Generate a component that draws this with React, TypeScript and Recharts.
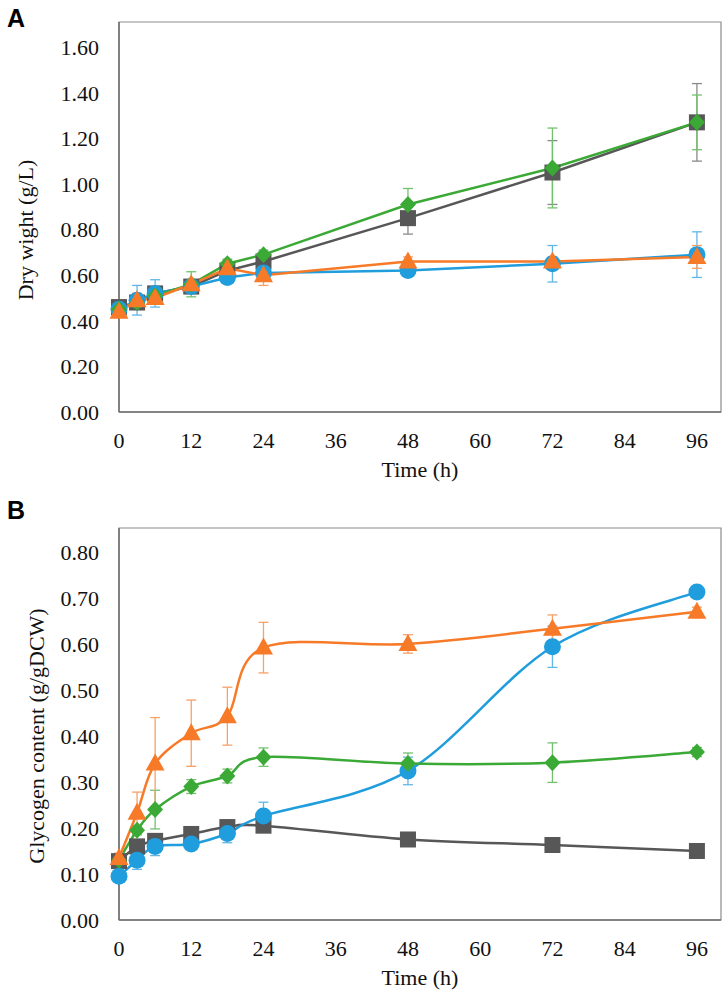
import { LineChart, Line, XAxis, YAxis, ErrorBar, ReferenceArea } from 'recharts';

const hours = [0, 3, 6, 12, 18, 24, 48, 72, 96];
const hourTicks = [0, 12, 24, 36, 48, 60, 72, 84, 96];

// panel A - dry weight (g/L)
const dwTicks = [0, 0.2, 0.4, 0.6, 0.8, 1.0, 1.2, 1.4, 1.6];
const dwSquare = [0.46, 0.48, 0.52, 0.55, 0.62, 0.66, 0.85, 1.05, 1.27];
const dwSquareErr = [0.01, 0.02, 0.02, 0.02, 0.02, 0.03, 0.07, 0.14, 0.17];
const dwCircle = [0.45, 0.49, 0.52, 0.55, 0.59, 0.61, 0.62, 0.65, 0.69];
const dwCircleErr = [0.01, 0.065, 0.06, 0.03, 0.02, 0.02, 0.02, 0.08, 0.1];
const dwDiamond = [0.45, 0.48, 0.51, 0.56, 0.65, 0.69, 0.91, 1.07, 1.27];
const dwDiamondErr = [0.01, 0.02, 0.02, 0.055, 0.02, 0.02, 0.07, 0.175, 0.12];
const dwTriangle = [0.44, 0.49, 0.5, 0.56, 0.63, 0.6, 0.66, 0.66, 0.68];
const dwTriangleErr = [0.01, 0.03, 0.02, 0.02, 0.02, 0.045, 0.02, 0.02, 0.05];

// panel B - glycogen content (g/gDCW)
const glyTicks = [0, 0.1, 0.2, 0.3, 0.4, 0.5, 0.6, 0.7, 0.8];
const glySquare = [0.128, 0.16, 0.172, 0.187, 0.202, 0.205, 0.175, 0.163, 0.15];
const glySquareErr = [0.005, 0.005, 0.005, 0.005, 0.005, 0.005, 0.005, 0.005, 0.005];
const glyCircle = [0.095, 0.13, 0.16, 0.165, 0.188, 0.226, 0.324, 0.594, 0.713];
const glyCircleErr = [0.01, 0.02, 0.02, 0.01, 0.02, 0.03, 0.03, 0.045, 0.01];
const glyDiamond = [0.13, 0.195, 0.24, 0.29, 0.313, 0.354, 0.34, 0.342, 0.365];
const glyDiamondErr = [0.01, 0.01, 0.042, 0.015, 0.015, 0.02, 0.023, 0.043, 0.01];
const glyTriangle = [0.135, 0.233, 0.34, 0.406, 0.443, 0.592, 0.6, 0.633, 0.67];
const glyTriangleErr = [0.01, 0.045, 0.1, 0.072, 0.063, 0.055, 0.02, 0.03, 0.01];

const SERIES = [
  { key: 'sq', shape: 'square', color: '#575757', err: '#8a8a8a' },
  { key: 'ci', shape: 'circle', color: '#1f9ddc', err: '#62b6e6' },
  { key: 'di', shape: 'diamond', color: '#3ba936', err: '#72c26d' },
  { key: 'tr', shape: 'triangle', color: '#f77a28', err: '#f7a067' },
];

const buildRows = (sets: Record<string, number[]>) =>
  hours.map((h, i) => {
    const row: Record<string, number> = { h };
    Object.keys(sets).forEach((k) => (row[k] = sets[k][i]));
    return row;
  });

const dwRows = buildRows({
  sq: dwSquare, sqErr: dwSquareErr,
  ci: dwCircle, ciErr: dwCircleErr,
  di: dwDiamond, diErr: dwDiamondErr,
  tr: dwTriangle, trErr: dwTriangleErr,
});

const glyRows = buildRows({
  sq: glySquare, sqErr: glySquareErr,
  ci: glyCircle, ciErr: glyCircleErr,
  di: glyDiamond, diErr: glyDiamondErr,
  tr: glyTriangle, trErr: glyTriangleErr,
});

// Excel-like smoothed line (Catmull-Rom as bezier segments)
const excelSmooth = (context: any) => {
  let pts: number[][] = [];
  return {
    areaStart() {},
    areaEnd() {},
    lineStart() {
      pts = [];
    },
    point(x: number, y: number) {
      pts.push([x, y]);
    },
    lineEnd() {
      if (!pts.length) return;
      context.moveTo(pts[0][0], pts[0][1]);
      for (let i = 0; i < pts.length - 1; i++) {
        const p0 = pts[i - 1] || pts[i];
        const p1 = pts[i];
        const p2 = pts[i + 1];
        const p3 = pts[i + 2] || p2;
        context.bezierCurveTo(
          p1[0] + (p2[0] - p0[0]) / 6,
          p1[1] + (p2[1] - p0[1]) / 6,
          p2[0] - (p3[0] - p1[0]) / 6,
          p2[1] - (p3[1] - p1[1]) / 6,
          p2[0],
          p2[1]
        );
      }
    },
  };
};

function Marker({ cx, cy, shape, color }: any) {
  if (cx == null || cy == null) return null;
  if (shape === 'square') return <rect x={cx - 8} y={cy - 8} width={16} height={16} fill={color} />;
  if (shape === 'circle') return <circle cx={cx} cy={cy} r={8.5} fill={color} />;
  if (shape === 'diamond')
    return <polygon points={`${cx},${cy - 8.5} ${cx + 8},${cy} ${cx},${cy + 8.5} ${cx - 8},${cy}`} fill={color} />;
  return <polygon points={`${cx},${cy - 10} ${cx + 9.5},${cy + 7} ${cx - 9.5},${cy + 7}`} fill={color} />;
}

const FONT = '"Liberation Serif", "Times New Roman", serif';
const tickStyle = { fill: '#111', fontSize: 22, fontFamily: FONT };

function Panel({ rows, ticks, yMax, top, height, marginTop, smooth }: any) {
  return (
    <div style={{ position: 'absolute', left: 0, top }}>
      <LineChart width={728} height={height} data={rows} margin={{ top: marginTop, right: 7, bottom: 0, left: 0 }}>
        <ReferenceArea x1={0} x2={100} y1={0} y2={yMax} fill="none" stroke="#8c8c8c" strokeWidth={1.2} />
        <XAxis
          dataKey="h"
          type="number"
          domain={[0, 100]}
          ticks={hourTicks}
          interval={0}
          height={78}
          tickLine={false}
          tickSize={0}
          tickMargin={20}
          axisLine={{ stroke: '#6e6e6e', strokeWidth: 1.5 }}
          tick={tickStyle}
        />
        <YAxis
          type="number"
          domain={[0, yMax]}
          ticks={ticks}
          interval={0}
          width={119}
          tickLine={false}
          tickSize={0}
          tickMargin={20}
          axisLine={{ stroke: '#6e6e6e', strokeWidth: 1.5 }}
          tick={tickStyle}
          tickFormatter={(v: number) => v.toFixed(2)}
        />
        {SERIES.map((s) => (
          <Line
            key={s.key}
            dataKey={s.key}
            type={smooth ? excelSmooth : 'linear'}
            stroke={s.color}
            strokeWidth={2.5}
            isAnimationActive={false}
            dot={(p: any) => <Marker key={`${s.key}-${p.index}`} cx={p.cx} cy={p.cy} shape={s.shape} color={s.color} />}
            activeDot={false}
          >
            <ErrorBar dataKey={`${s.key}Err`} direction="y" width={5} stroke={s.err} strokeWidth={1.3} isAnimationActive={false} />
          </Line>
        ))}
      </LineChart>
    </div>
  );
}

const letterStyle: any = {
  position: 'absolute',
  left: 7,
  fontFamily: '"Liberation Sans", Arial, sans-serif',
  fontWeight: 700,
  fontSize: 25,
  lineHeight: '25px',
};

const titleStyle: any = {
  position: 'absolute',
  width: 400,
  height: 30,
  lineHeight: '30px',
  textAlign: 'center',
  fontFamily: FONT,
  fontSize: 22,
  color: '#111',
  whiteSpace: 'nowrap',
};

export default function App() {
  return (
    <div style={{ position: 'absolute', left: 0, top: 0, width: 728, height: 998, background: '#fff' }}>
      <Panel rows={dwRows} ticks={dwTicks} yMax={1.71} top={0} height={490} marginTop={22} smooth={false} />
      <Panel rows={glyRows} ticks={glyTicks} yMax={0.852} top={500} height={498} marginTop={28} smooth />

      <div style={{ ...letterStyle, top: 6 }}>A</div>
      <div style={{ ...letterStyle, top: 498 }}>B</div>

      <div style={{ ...titleStyle, left: 26 - 200, top: 230 - 15, transform: 'rotate(-90deg)' }}>Dry wight (g/L)</div>
      <div style={{ ...titleStyle, left: 420 - 200, top: 470 - 15 }}>Time (h)</div>

      <div style={{ ...titleStyle, left: 37 - 200, top: 736 - 15, transform: 'rotate(-90deg)' }}>Glycogen content (g/gDCW)</div>
      <div style={{ ...titleStyle, left: 420 - 200, top: 978 - 15 }}>Time (h)</div>
    </div>
  );
}
